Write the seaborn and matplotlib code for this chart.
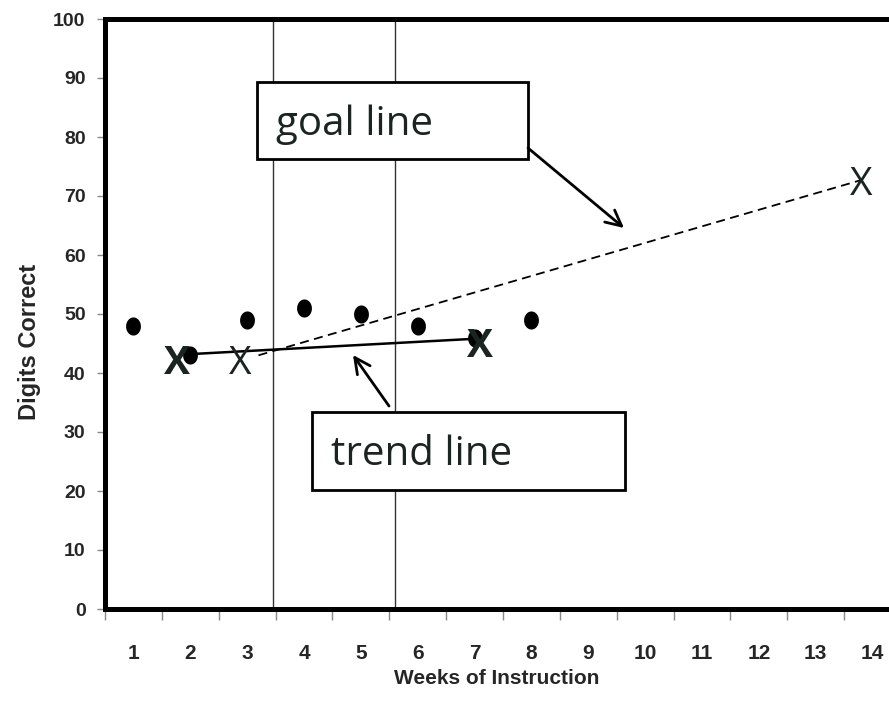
import matplotlib
matplotlib.use("Agg")
import matplotlib.pyplot as plt
import seaborn as sns
import pandas as pd
from matplotlib.path import Path
import numpy as np

# ---- data ----
weeks = [1, 2, 3, 4, 5, 6, 7, 8]
digits_correct = [48, 43, 49, 51, 50, 48, 46, 49]

week_labels = [str(i) for i in range(1, 15)]
y_ticks = [0, 10, 20, 30, 40, 50, 60, 70, 80, 90, 100]

phase_lines = [3.45, 5.6]

trend_x = [2.0, 7.0]
trend_y = [43.2, 45.8]

goal_x = [3.2, 13.8]
goal_y = [43.0, 72.7]

x_mark_x = [1.77, 2.87, 7.1, 13.8]
x_mark_y = [41.6, 41.6, 44.5, 71.9]
x_mark_bold = [True, False, True, False]

sns.set_style("white")
plt.rcParams['font.family'] = ['Liberation Sans', 'DejaVu Sans']

fig = plt.figure(figsize=(8.89, 7.18), dpi=100)
ax = fig.add_axes([105/889, 1-609/718, (901-105)/889, (609-19)/718])

# slightly tall elliptical dot marker
t = np.linspace(0, 2*np.pi, 40)
ell = Path(np.column_stack([0.82*np.cos(t), np.sin(t)]), closed=True)

df = pd.DataFrame({"week": weeks, "digits": digits_correct})
sns.scatterplot(data=df, x="week", y="digits", ax=ax, s=170, color="black",
                marker=ell, edgecolor="black", linewidth=0, zorder=4)

for xv in phase_lines:
    ax.axvline(xv, color="#333333", lw=1.0, zorder=1)

sns.lineplot(x=trend_x, y=trend_y, ax=ax, color="black", lw=1.8, zorder=3)
sns.lineplot(x=goal_x, y=goal_y, ax=ax, color="black", lw=1.3, zorder=3,
             linestyle=(0, (5, 3)))

for xv, yv, b in zip(x_mark_x, x_mark_y, x_mark_bold):
    ax.text(xv, yv, "X", ha="center", va="center", fontsize=28,
            fontweight="bold" if b else "normal", color="#1a2420",
            family=["Open Sans", "DejaVu Sans"], zorder=5)

ax.set_xlim(0.5, 14.5)
ax.set_ylim(0, 100)

# text boxes with arrows
def px2data(px, py):
    return (px - 105) / ((901 - 105) / 14) + 0.5, (609 - py) / 5.9

gx0, gy0 = px2data(257, 159)
gx1, gy1 = px2data(528, 82)
ax.add_patch(plt.Rectangle((gx0, gy0), gx1 - gx0, gy1 - gy0, fill=True,
                           facecolor="white", edgecolor="black", lw=2, zorder=6))
tx, ty = px2data(276, 125)
ax.text(tx, ty, "goal line", fontsize=29, family=["Open Sans", "DejaVu Sans"],
        color="#1a2420", va="center", ha="left", zorder=7)

bx0, by0 = px2data(312, 490)
bx1, by1 = px2data(625, 412)
ax.add_patch(plt.Rectangle((bx0, by0), bx1 - bx0, by1 - by0, fill=True,
                           facecolor="white", edgecolor="black", lw=2, zorder=6))
tx, ty = px2data(331, 455)
ax.text(tx, ty, "trend line", fontsize=29, family=["Open Sans", "DejaVu Sans"],
        color="#1a2420", va="center", ha="left", zorder=7)

a0 = px2data(528, 148)
a1 = px2data(624, 228)
ax.annotate("", xy=a1, xytext=a0,
            arrowprops=dict(arrowstyle="->", lw=2, color="black",
                            mutation_scale=28, shrinkA=0, shrinkB=0), zorder=8)
b0 = px2data(389, 406)
b1 = px2data(353, 355)
ax.annotate("", xy=b1, xytext=b0,
            arrowprops=dict(arrowstyle="->", lw=2, color="black",
                            mutation_scale=28, shrinkA=0, shrinkB=0), zorder=8)

# axes styling
for side in ["left", "top", "bottom"]:
    ax.spines[side].set_linewidth(3.6)
    ax.spines[side].set_color("black")
ax.spines["right"].set_visible(False)

ax.set_yticks(y_ticks)
ax.set_yticklabels([str(v) for v in y_ticks], fontsize=14, fontweight="bold")
ax.tick_params(axis="y", direction="out", length=6, width=1, color="#888888",
               pad=8, left=True)

ax.set_xticks([i + 0.5 for i in range(0, 15)])
ax.set_xticklabels([])
ax.tick_params(axis="x", which="major", direction="out", length=8, width=1,
               color="#888888", bottom=True)
ax.set_xticks(list(range(1, 15)), minor=True)
ax.set_xticklabels(week_labels, minor=True, fontsize=15, fontweight="bold")
ax.tick_params(axis="x", which="minor", length=0, pad=25)

ax.set_xlabel("Weeks of Instruction", fontsize=15, fontweight="bold")
ax.set_ylabel("Digits Correct", fontsize=17, fontweight="bold")
ax.xaxis.set_label_coords((497 - 105) / 796, -(678 - 609) / 590, transform=ax.transAxes)
ax.yaxis.set_label_coords(-(105 - 30) / 796, (609 - 342) / 590, transform=ax.transAxes)
ax.xaxis.label.set_va("center")
ax.yaxis.label.set_va("center")
ax.grid(False)

fig.savefig("out.png", dpi=100)
